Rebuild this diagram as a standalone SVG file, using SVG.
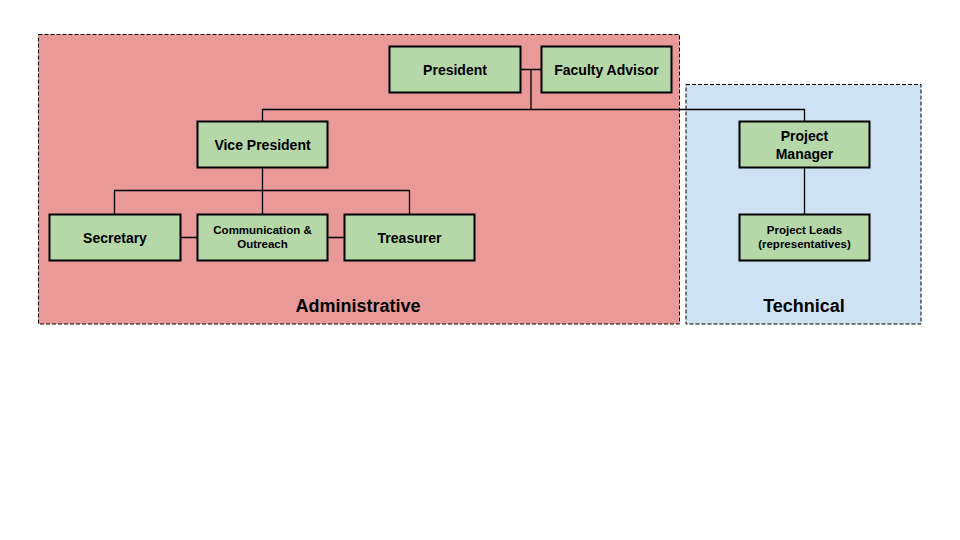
<svg xmlns="http://www.w3.org/2000/svg" width="960" height="540" viewBox="0 0 960 540">
<style>
.region{stroke:#000;stroke-width:1;stroke-dasharray:4,2}
.node rect{fill:#b6d7a8;stroke:#000;stroke-width:2}
.node text{font-family:"Liberation Sans",Arial,sans-serif;font-weight:bold;font-size:14px;fill:#000;text-anchor:middle}
.node text.sm{font-size:11.5px}
.conn{fill:none;stroke:#000;stroke-width:1.3}
.rlabel{font-family:"Liberation Sans",Arial,sans-serif;font-weight:bold;font-size:18px;fill:#000;text-anchor:middle}
</style>
<rect width="960" height="540" fill="#fff"/>
<g id="admin-region">
<rect class="region" x="38.5" y="34.5" width="641" height="289.5" fill="#ea9999"/>
<text class="rlabel" x="358" y="312">Administrative</text>
</g>
<g id="technical-region">
<rect class="region" x="686" y="84.5" width="235" height="239.5" fill="#cfe2f3"/>
<text class="rlabel" x="804" y="312">Technical</text>
</g>
<g id="connectors">
<path class="conn" d="M520 69.5H541M531 69.5V109.5M262.5 121V109.5H804.5V121"/>
<path class="conn" d="M262.5 167V190.5M114.5 214V190.5H409.5V214M262.5 190.5V214"/>
<path class="conn" d="M180 237.5H197M327 237.5H344"/>
<path class="conn" d="M804.5 167V214"/>
</g>
<g id="president" class="node"><rect x="389.5" y="46.5" width="131" height="46"/><text x="455" y="75">President</text></g>
<g id="faculty-advisor" class="node"><rect x="541.5" y="46.5" width="130" height="46"/><text x="606.5" y="75">Faculty Advisor</text></g>
<g id="vice-president" class="node"><rect x="197.5" y="121.5" width="130" height="46"/><text x="262.5" y="150">Vice President</text></g>
<g id="secretary" class="node"><rect x="49.5" y="214.5" width="131" height="46"/><text x="115" y="243">Secretary</text></g>
<g id="communication" class="node"><rect x="197.5" y="214.5" width="130" height="46"/><text class="sm" x="262.5" y="234">Communication &amp;</text><text class="sm" x="262.5" y="248">Outreach</text></g>
<g id="treasurer" class="node"><rect x="344.5" y="214.5" width="130" height="46"/><text x="409.5" y="243">Treasurer</text></g>
<g id="project-manager" class="node"><rect x="739.5" y="121.5" width="130" height="46"/><text x="804.5" y="140.5">Project</text><text x="804.5" y="158.5">Manager</text></g>
<g id="project-leads" class="node"><rect x="739.5" y="214.5" width="130" height="46"/><text class="sm" x="804.5" y="234">Project Leads</text><text class="sm" x="804.5" y="248">(representatives)</text></g>
</svg>
